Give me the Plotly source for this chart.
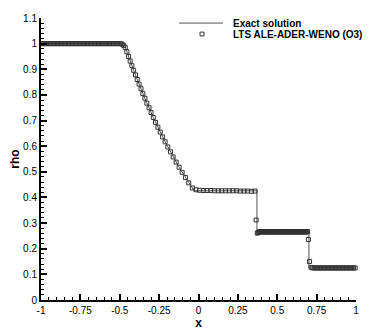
import plotly.graph_objects as go

# exact solution (Sod, t=0.4)
x_exact = [-1.0, -0.473, -0.412, -0.353, -0.287, -0.212, -0.123, -0.062, -0.028,
           0.371, 0.371, 0.701, 0.701, 1.0]
rho_exact = [1.0, 1.0, 0.896, 0.805, 0.712, 0.617, 0.518, 0.457, 0.426,
             0.426, 0.266, 0.266, 0.125, 0.125]

# numerical solution
x_left = [-0.995, -0.985, -0.975, -0.965, -0.955, -0.945, -0.935, -0.925, -0.915, -0.905,
          -0.895, -0.885, -0.875, -0.865, -0.855, -0.845, -0.835, -0.825, -0.815, -0.805,
          -0.795, -0.785, -0.775, -0.765, -0.755, -0.745, -0.735, -0.725, -0.715, -0.705,
          -0.695, -0.685, -0.675, -0.665, -0.655, -0.645, -0.635, -0.625, -0.615, -0.605,
          -0.595, -0.585, -0.575, -0.565, -0.555, -0.545, -0.535, -0.525, -0.515, -0.505,
          -0.495, -0.485, -0.475]
rho_left = [1.0, 1.0, 1.0, 1.0, 1.0, 1.0, 1.0, 1.0, 1.0, 1.0,
            1.0, 1.0, 1.0, 1.0, 1.0, 1.0, 1.0, 1.0, 1.0, 1.0,
            1.0, 1.0, 1.0, 1.0, 1.0, 1.0, 1.0, 1.0, 1.0, 1.0,
            1.0, 1.0, 1.0, 1.0, 1.0, 1.0, 1.0, 1.0, 1.0, 1.0,
            1.0, 1.0, 1.0, 1.0, 1.0, 1.0, 1.0, 1.0, 1.0, 1.0,
            1.0, 0.998, 0.993]

x_fan = [-0.465, -0.455, -0.444, -0.434, -0.423, -0.412, -0.400, -0.389, -0.377, -0.365,
         -0.353, -0.340, -0.328, -0.314, -0.301, -0.287, -0.273, -0.258, -0.243, -0.228,
         -0.212, -0.195, -0.178, -0.161, -0.142, -0.123, -0.104, -0.083, -0.062, -0.039]
rho_fan = [0.985, 0.968, 0.950, 0.932, 0.914, 0.896, 0.878, 0.860, 0.842, 0.824,
           0.805, 0.787, 0.768, 0.750, 0.731, 0.712, 0.693, 0.674, 0.655, 0.636,
           0.617, 0.597, 0.578, 0.558, 0.538, 0.518, 0.498, 0.478, 0.457, 0.437]

x_plateau = [-0.016, 0.007, 0.031, 0.054, 0.078, 0.101, 0.125, 0.148, 0.172, 0.195,
             0.219, 0.242, 0.265, 0.289, 0.312, 0.336, 0.359, 0.366]
rho_plateau = [0.430, 0.428, 0.427, 0.427, 0.427, 0.426, 0.426, 0.426, 0.426, 0.426,
               0.426, 0.426, 0.425, 0.425, 0.425, 0.424, 0.425, 0.312]

x_post = [0.373, 0.378, 0.383, 0.388, 0.392, 0.397, 0.402, 0.406, 0.411, 0.416,
          0.420, 0.425, 0.430, 0.435, 0.439, 0.444, 0.449, 0.453, 0.458, 0.463,
          0.468, 0.472, 0.477, 0.482, 0.486, 0.491, 0.496, 0.500, 0.505, 0.510,
          0.515, 0.519, 0.524, 0.529, 0.533, 0.538, 0.543, 0.547, 0.552, 0.557,
          0.562, 0.566, 0.571, 0.576, 0.580, 0.585, 0.590, 0.595, 0.599, 0.604,
          0.609, 0.613, 0.618, 0.623, 0.627, 0.632, 0.637, 0.642, 0.646, 0.651,
          0.656, 0.660, 0.665, 0.670, 0.674, 0.679, 0.684, 0.689, 0.693, 0.698]
rho_post = [0.261, 0.263, 0.265, 0.266, 0.266, 0.266, 0.266, 0.266, 0.266, 0.266,
            0.266, 0.266, 0.266, 0.266, 0.266, 0.266, 0.266, 0.266, 0.266, 0.266,
            0.266, 0.266, 0.266, 0.266, 0.266, 0.266, 0.266, 0.266, 0.266, 0.266,
            0.266, 0.266, 0.266, 0.266, 0.266, 0.266, 0.266, 0.266, 0.266, 0.266,
            0.266, 0.266, 0.266, 0.266, 0.266, 0.266, 0.266, 0.266, 0.266, 0.266,
            0.266, 0.266, 0.266, 0.266, 0.266, 0.266, 0.266, 0.266, 0.266, 0.266,
            0.266, 0.266, 0.266, 0.266, 0.266, 0.266, 0.266, 0.267, 0.266, 0.236]

x_right = [0.705, 0.715, 0.725, 0.735, 0.745, 0.755, 0.765, 0.775, 0.785, 0.795,
           0.805, 0.815, 0.825, 0.835, 0.845, 0.855, 0.865, 0.875, 0.885, 0.895,
           0.905, 0.915, 0.925, 0.935, 0.945, 0.955, 0.965, 0.975, 0.985, 0.995]
rho_right = [0.150, 0.127, 0.125, 0.125, 0.125, 0.125, 0.125, 0.125, 0.125, 0.125,
             0.125, 0.125, 0.125, 0.125, 0.125, 0.125, 0.125, 0.125, 0.125, 0.125,
             0.125, 0.125, 0.125, 0.125, 0.125, 0.125, 0.125, 0.125, 0.125, 0.125]

x_ticks = [-1, -0.75, -0.5, -0.25, 0, 0.25, 0.5, 0.75, 1]
x_ticktext = ["-1", "-0.75", "-0.5", "-0.25", "0", "0.25", "0.5", "0.75", "1"]

x_num = x_left + x_fan + x_plateau + x_post + x_right
rho_num = rho_left + rho_fan + rho_plateau + rho_post + rho_right

FONT = "Arial, Liberation Sans, sans-serif"
LINE_COLOR = "#555555"
MARK_COLOR = "#333333"

fig = go.Figure()
fig.add_trace(go.Scatter(
    x=x_exact, y=rho_exact, mode="lines", name="Exact solution",
    line=dict(color=LINE_COLOR, width=1),
))
fig.add_trace(go.Scatter(
    x=x_num, y=rho_num, mode="markers", name="LTS ALE-ADER-WENO (O3)",
    marker=dict(symbol="square-open", size=4, color=MARK_COLOR, line=dict(width=1)),
    cliponaxis=False,
))

# legend drawn by hand (tecplot style, tight rows), paper coordinates
fig.add_shape(type="line", xref="paper", yref="paper",
              x0=0.438, x1=0.578, y0=0.982, y1=0.982,
              line=dict(color=LINE_COLOR, width=1))
fig.add_shape(type="rect", xref="paper", yref="paper",
              x0=0.505, x1=0.5175, y0=0.9365, y1=0.950,
              line=dict(color=MARK_COLOR, width=1), fillcolor="rgba(0,0,0,0)")
fig.add_annotation(text="Exact solution", xref="paper", yref="paper",
                   x=0.604, y=0.982, xanchor="left", yanchor="middle",
                   showarrow=False, font=dict(size=10, weight="bold"))
fig.add_annotation(text="LTS ALE-ADER-WENO (O3)", xref="paper", yref="paper",
                   x=0.604, y=0.943, xanchor="left", yanchor="middle",
                   showarrow=False, font=dict(size=10, weight="bold"))

# the page body adds an 8px offset, so the figure is 8px smaller on each side
fig.update_layout(
    width=366, height=324,
    margin=dict(l=33, r=18, t=10, b=32),
    paper_bgcolor="white", plot_bgcolor="white",
    font=dict(family=FONT, size=10, color="black"),
    showlegend=False,
)
fig.update_xaxes(
    range=[-1, 1], tickvals=x_ticks, ticktext=x_ticktext,
    ticks="inside", ticklen=6, tickwidth=1.5, tickcolor="black",
    showline=True, linewidth=2, linecolor="black",
    showgrid=False, zeroline=False, automargin=False,
    minor=dict(dtick=0.05, tick0=0, ticks="inside", ticklen=3, tickwidth=1, tickcolor="black"),
    title=dict(text="x", font=dict(size=12, weight="bold"), standoff=0),
)
fig.update_yaxes(
    range=[0, 1.1], dtick=0.1, tick0=0,
    ticks="inside", ticklen=6, tickwidth=1.5, tickcolor="black",
    showline=True, linewidth=2, linecolor="black",
    showgrid=False, zeroline=False, automargin=False,
    minor=dict(dtick=0.02, tick0=0, ticks="inside", ticklen=3, tickwidth=1, tickcolor="black"),
    title=dict(text="rho", font=dict(size=12, weight="bold"), standoff=2),
)

fig.write_html("out.html")
